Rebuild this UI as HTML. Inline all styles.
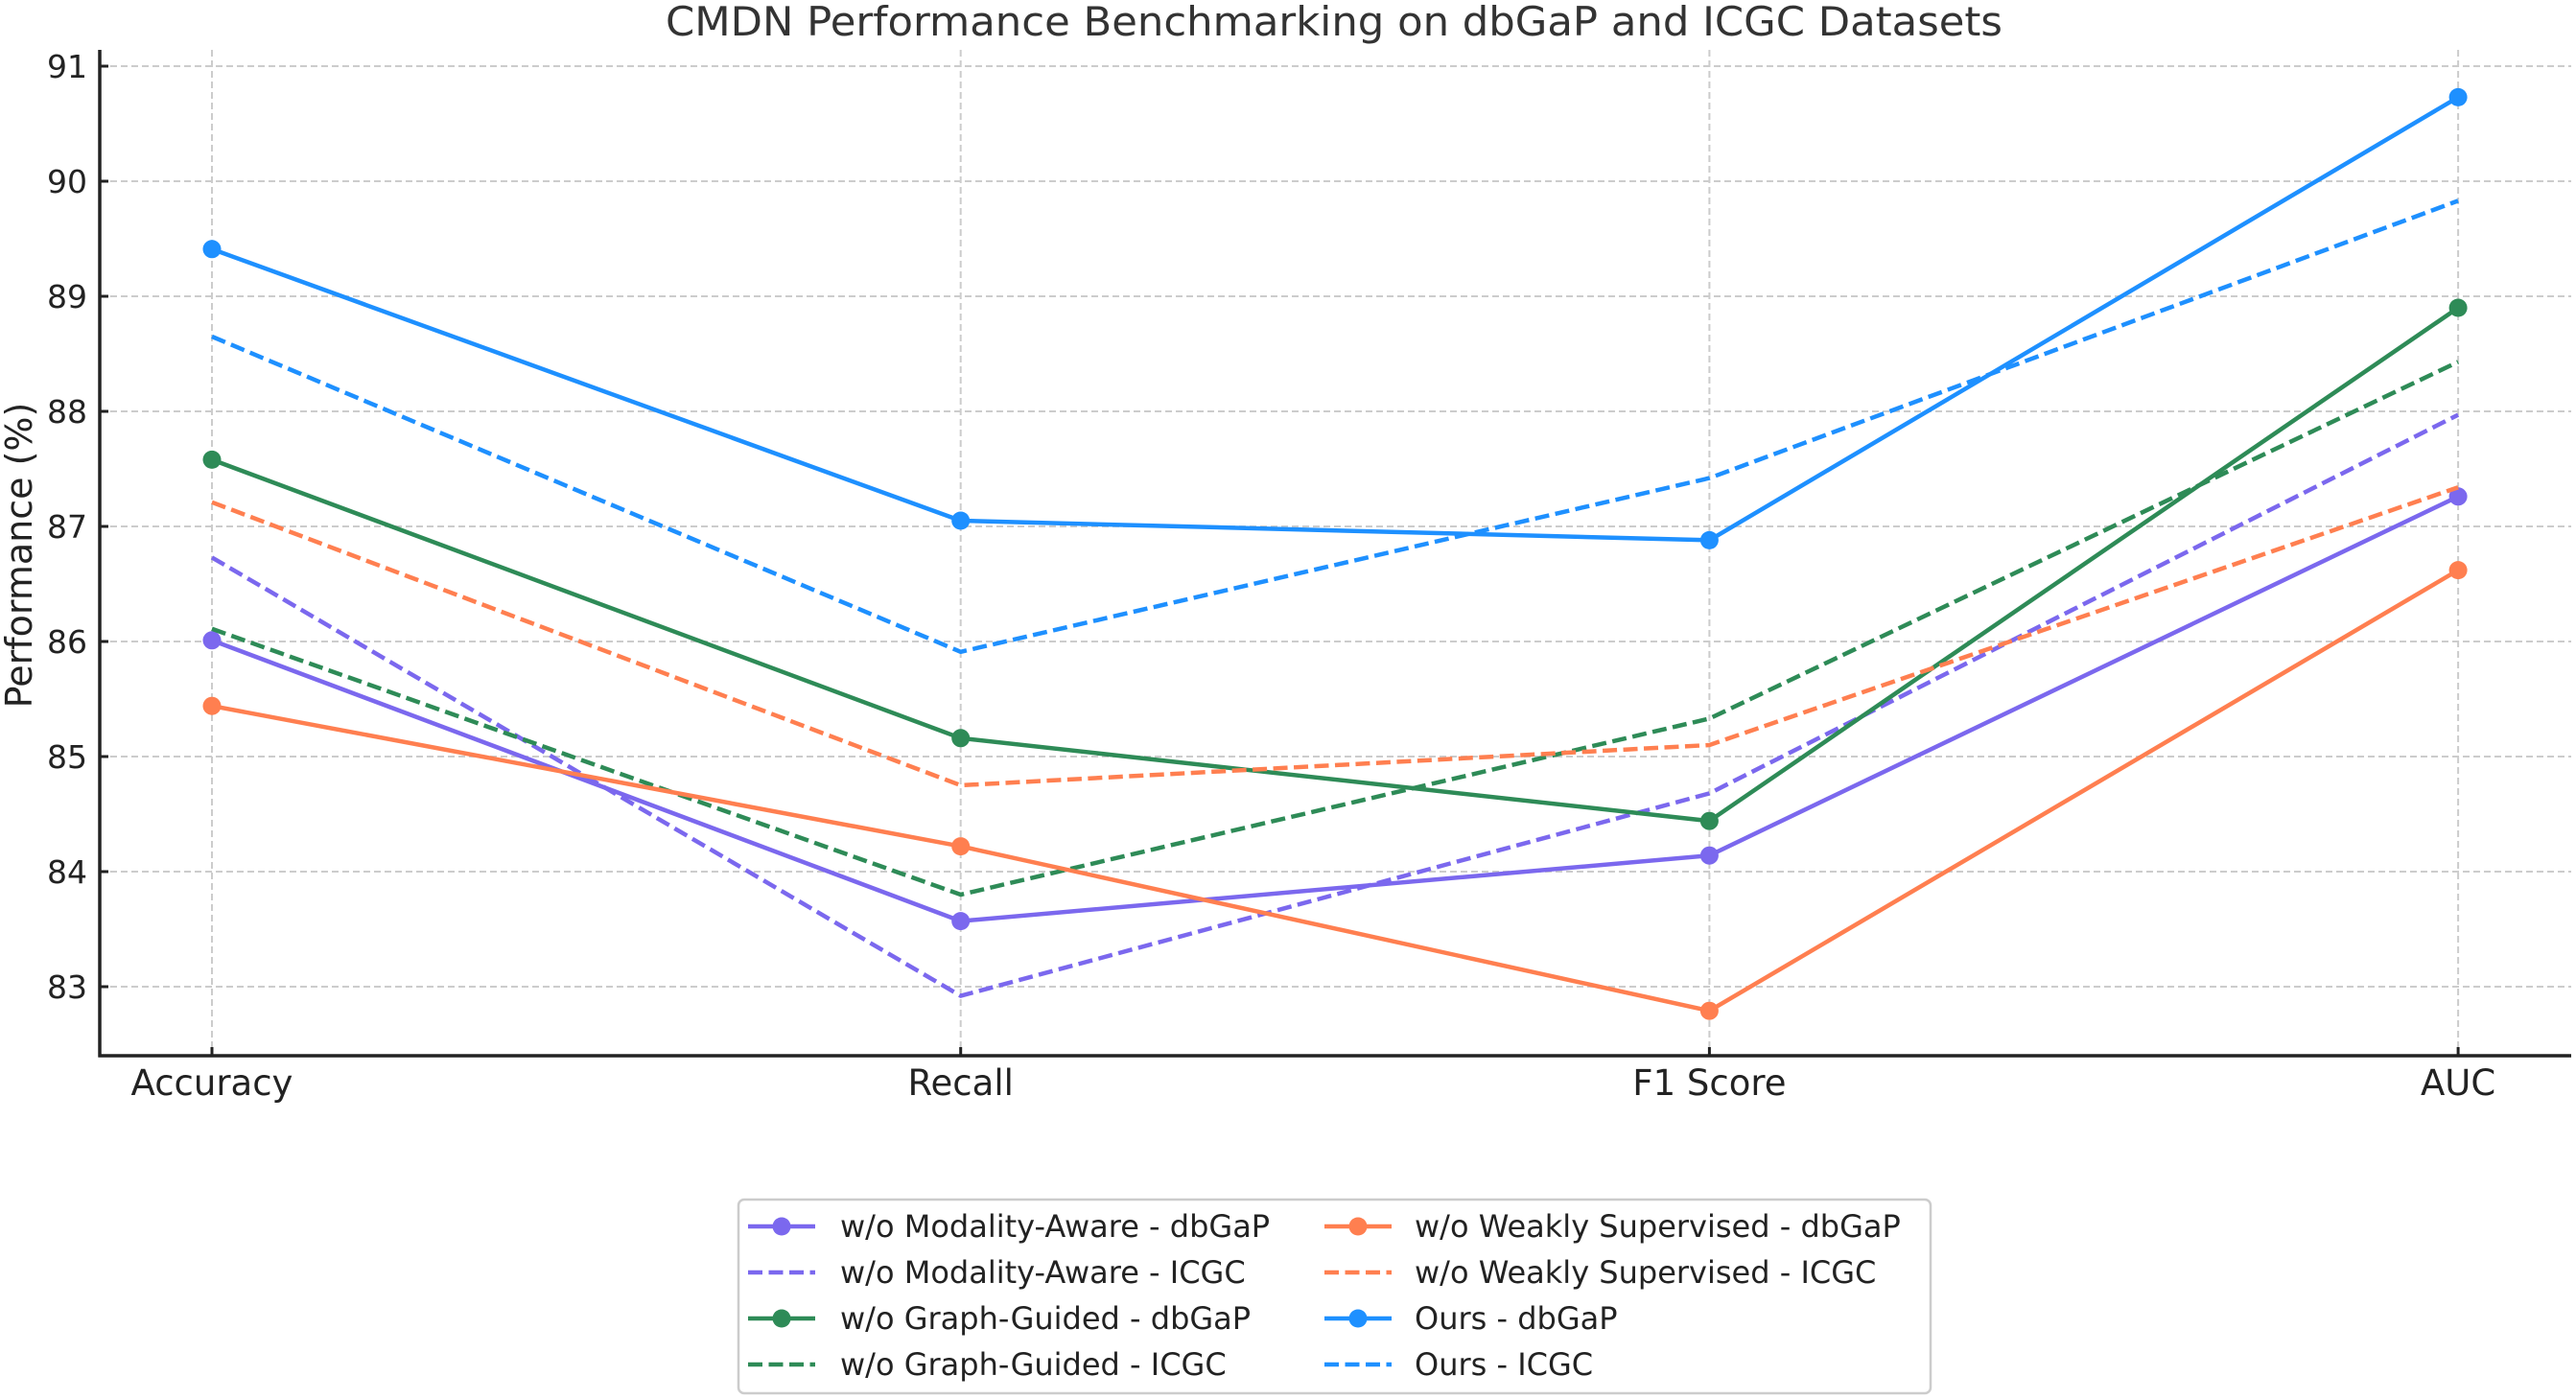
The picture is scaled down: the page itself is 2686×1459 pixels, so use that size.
<!DOCTYPE html>
<html><head><meta charset="utf-8"><style>
html,body{margin:0;padding:0;background:#fff;}
svg{display:block;font-family:"DejaVu Sans","Liberation Sans",sans-serif;}
</style></head><body>
<svg id="chart" width="2686" height="1459" viewBox="0 0 2686 1459" xmlns="http://www.w3.org/2000/svg">
<rect x="0" y="0" width="2686" height="1459" fill="#fff"/>
<text x="1391" y="37" text-anchor="middle" font-size="42" fill="#333" textLength="1394" lengthAdjust="spacingAndGlyphs">CMDN Performance Benchmarking on dbGaP and ICGC Datasets</text>
<g id="grid"></g>
<g id="axes"></g>
<g id="series"></g>
<text transform="translate(33,579) rotate(-90)" text-anchor="middle" font-size="38" fill="#222">Performance (%)</text>
<g id="legend"></g>
</svg>
<script>
const categories = ["Accuracy", "Recall", "F1 Score", "AUC"];
const yTicks = [83, 84, 85, 86, 87, 88, 89, 90, 91];
const seriesNames = ["w/o Modality-Aware - dbGaP","w/o Modality-Aware - ICGC","w/o Graph-Guided - dbGaP","w/o Graph-Guided - ICGC","w/o Weakly Supervised - dbGaP","w/o Weakly Supervised - ICGC","Ours - dbGaP","Ours - ICGC"];
const modDbgap = [86.01, 83.57, 84.14, 87.26];
const modIcgc = [86.73, 82.92, 84.68, 87.97];
const graphDbgap = [87.58, 85.16, 84.44, 88.90];
const graphIcgc = [86.11, 83.80, 85.33, 88.43];
const weakDbgap = [85.44, 84.22, 82.79, 86.62];
const weakIcgc = [87.21, 84.75, 85.10, 87.34];
const oursDbgap = [89.41, 87.05, 86.88, 90.73];
const oursIcgc = [88.65, 85.91, 87.42, 89.83];

const NS = "http://www.w3.org/2000/svg";
const L = 104, R = 2681, T = 52, B = 1101;
function xScale(i){ return 221 + i * 780.7; }
function yScale(v){ return 69 + (91 - v) * 120; }
function mk(tag, attrs, parent){ const e = document.createElementNS(NS, tag); for (const k in attrs) e.setAttribute(k, attrs[k]); parent.appendChild(e); return e; }

const grid = document.getElementById('grid');
const axes = document.getElementById('axes');
yTicks.forEach(v => {
  const y = yScale(v);
  const g = mk('line', {x1:L, x2:R, y1:y, y2:y, stroke:'#ccc', 'stroke-width':2, 'stroke-dasharray':'7,4'}, grid);
  
  
  const t = mk('line', {x1:L, x2:L+9, y1:y, y2:y, stroke:'#222', 'stroke-width':3}, axes);
  
  
  const lb = mk('text', {x:91, y:y+12, 'text-anchor':'end', 'font-size':33, fill:'#222'}, axes);
  lb.textContent = v;
  
  
});
categories.forEach((c, i) => {
  const x = xScale(i);
  const g = mk('line', {x1:x, x2:x, y1:T, y2:B, stroke:'#ccc', 'stroke-width':2, 'stroke-dasharray':'7,4'}, grid);
  
  
  const t = mk('line', {x1:x, x2:x, y1:B, y2:B-9, stroke:'#222', 'stroke-width':3}, axes);
  
  
  const lb = mk('text', {x:x, y:1142, 'text-anchor':'middle', 'font-size':37, fill:'#222'}, axes);
  lb.textContent = c;
  
  
});
const sl = mk('line', {x1:L, x2:L, y1:T, y2:B+1.5, stroke:'#222', 'stroke-width':3.5}, axes);


const sb = mk('line', {x1:L-1.5, x2:R, y1:B, y2:B, stroke:'#222', 'stroke-width':3.5}, axes);



const allSeries = [modDbgap, modIcgc, graphDbgap, graphIcgc, weakDbgap, weakIcgc, oursDbgap, oursIcgc];
const colors = ['#7B68EE','#7B68EE','#2E8B57','#2E8B57','#FF7F50','#FF7F50','#1E90FF','#1E90FF'];
const seriesG = document.getElementById('series');
allSeries.forEach((vals, s) => {
  const dashed = s % 2 === 1;
  const pts = vals.map((v, i) => xScale(i).toFixed(1) + ',' + yScale(v).toFixed(1)).join(' ');
  const pl = mk('polyline', {points:pts, fill:'none', stroke:colors[s], 'stroke-width':4.5, 'stroke-linejoin':'round'}, seriesG);
  if (dashed) pl.setAttribute('stroke-dasharray', '15,6.5');
  
  
  if (!dashed) {
    vals.forEach((v, i) => {
      const c = mk('circle', {cx:xScale(i), cy:yScale(v), r:9.5, fill:colors[s]}, seriesG);
      
      
    });
  }
});

const legend = document.getElementById('legend');
const box = mk('rect', {x:770, y:1251, width:1243, height:202, rx:6, fill:'#fff', stroke:'#ccc', 'stroke-width':2.5}, legend);


const rowY = [1279, 1327, 1375, 1423];
seriesNames.forEach((n, s) => {
  const col = Math.floor(s / 4), row = s % 4;
  const lx = col === 0 ? 780 : 1381;
  const tx = col === 0 ? 876 : 1475;
  const y = rowY[row];
  const ln = mk('line', {x1:lx, x2:lx+70, y1:y, y2:y, stroke:colors[s], 'stroke-width':4.5}, legend);
  if (s % 2 === 1) ln.setAttribute('stroke-dasharray', '15,6.5');
  
  
  if (s % 2 === 0) {
    const c = mk('circle', {cx:lx+35, cy:y, r:9.5, fill:colors[s]}, legend);
    
    
  }
  const t = mk('text', {x:tx, y:y+11, 'font-size':32, fill:'#222'}, legend);
  t.textContent = n;
  
  
});
</script>
</body></html>
